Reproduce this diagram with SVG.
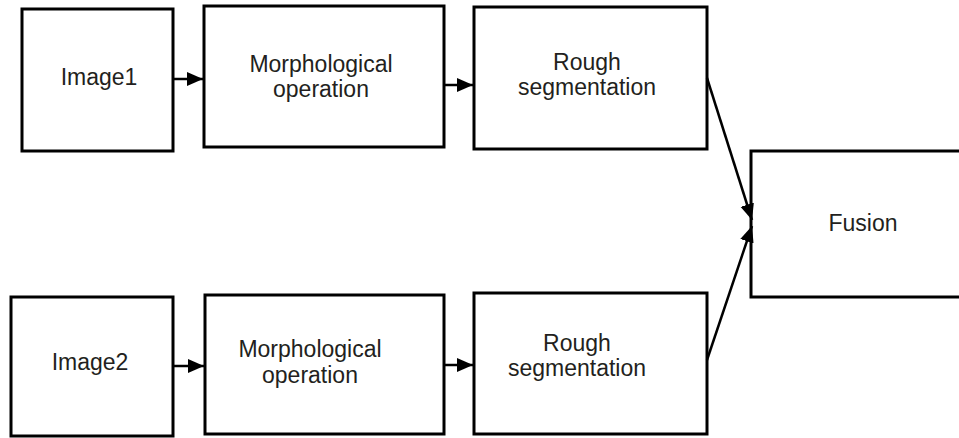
<svg xmlns="http://www.w3.org/2000/svg" width="959" height="438" viewBox="0 0 959 438">
<style>
.box{fill:#fff;stroke:#000;stroke-width:3}
.t{font-family:"Liberation Sans",Arial,sans-serif;font-size:23px;fill:#231f20;text-anchor:middle}
.c{stroke:#000;stroke-width:2.5;fill:none;marker-end:url(#ah)}
</style>
<defs>
<marker id="ah" markerUnits="userSpaceOnUse" markerWidth="17" markerHeight="15" refX="16" refY="7" orient="auto">
<path d="M0,0 L16,7 L0,14 z" fill="#000"/>
</marker>
</defs>
<rect width="959" height="438" fill="#fff"/>
<g id="image1"><rect class="box" x="22" y="9" width="151" height="142"/><text class="t" x="99" y="85">Image1</text></g>
<g id="morph1"><rect class="box" x="204" y="6" width="240" height="141"/><text class="t" x="321" y="72">Morphological</text><text class="t" x="321" y="97">operation</text></g>
<g id="rough1"><rect class="box" x="474" y="7" width="233" height="142"/><text class="t" x="587" y="70">Rough</text><text class="t" x="587" y="95">segmentation</text></g>
<g id="fusion"><rect class="box" x="751" y="151" width="230" height="146"/><text class="t" x="863" y="231">Fusion</text></g>
<g id="image2"><rect class="box" x="11" y="297" width="162" height="139"/><text class="t" x="90" y="370">Image2</text></g>
<g id="morph2"><rect class="box" x="205" y="295" width="239" height="139"/><text class="t" x="310" y="357">Morphological</text><text class="t" x="310" y="383">operation</text></g>
<g id="rough2"><rect class="box" x="474" y="293" width="233" height="141"/><text class="t" x="577" y="351">Rough</text><text class="t" x="577" y="376">segmentation</text></g>
<g id="connectors">
<line class="c" x1="174" y1="79" x2="203" y2="79"/>
<line class="c" x1="445" y1="85" x2="473" y2="85"/>
<line class="c" x1="174" y1="366" x2="204" y2="366"/>
<line class="c" x1="445" y1="365" x2="473" y2="365"/>
<line class="c" x1="707" y1="78" x2="752" y2="220"/>
<line class="c" x1="707" y1="360" x2="752" y2="226"/>
</g>
</svg>
